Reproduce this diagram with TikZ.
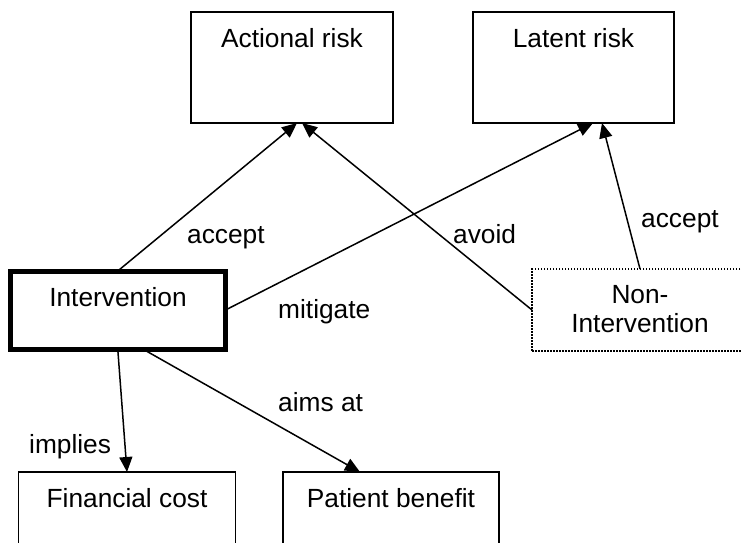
\documentclass[tikz,border=0pt]{standalone}
\usepackage{fontspec}
\setmainfont{Liberation Sans}
\usetikzlibrary{arrows.meta,calc}
\begin{document}
\begin{tikzpicture}[x=1pt,y=-1pt,
  box/.style={draw,line width=1.5pt,anchor=north west,inner sep=0pt,outer sep=0pt},
  txt/.style={font=\fontsize{26.3}{29}\selectfont,inner sep=0pt,anchor=base},
  lbl/.style={font=\fontsize{26.3}{29}\selectfont,inner sep=0pt,anchor=base west},
  conn/.style={line width=1.5pt,-{Triangle[length=15pt,width=13pt]}}]
\clip (0,0) rectangle (742,543);
% boxes
\node[box,minimum width=202pt,minimum height=111pt] (act) at (191,12) {};
\node[box,minimum width=201pt,minimum height=111pt] (lat) at (473,12) {};
\node[box,line width=5pt,minimum width=215.5pt,minimum height=78pt] (int) at (10,271) {};
\node[box,dash pattern=on 1.5pt off 1.5pt,minimum width=300pt,minimum height=82pt] (nonint) at (532,269) {};
\node[box,minimum width=217pt,minimum height=150pt] (fin) at (18.5,472) {};
\node[box,minimum width=216pt,minimum height=150pt] (pat) at (283,472) {};
% box texts
\node[txt] (actT) at (292,48) {Actional risk};
\node[txt] (latT) at (573.5,48) {Latent risk};
\node[txt] (intT) at (118,306) {Intervention};
\node[txt,anchor=center,align=center] (nonT) at (640,309.5) {Non-\\Intervention};
\node[txt] (finT) at (127,507) {Financial cost};
\node[txt] (patT) at (391,507) {Patient benefit};
% connector labels
\node[lbl] (l1) at (187,243) {accept};
\node[lbl] (l2) at (278,318) {mitigate};
\node[lbl] (l3) at (453,243) {avoid};
\node[lbl] (l4) at (641,227) {accept};
\node[lbl] (l5) at (278,411) {aims at};
\node[lbl] (l6) at (29,453) {implies};
% connectors
\draw[conn] (int.north) -- ([xshift=5pt]act.south);
\draw[conn] (nonint.west) -- ([xshift=10pt]act.south);
\draw[conn] (int.east) -- ([xshift=19.5pt]lat.south);
\draw[conn] ([xshift=108pt]nonint.north west) -- ([xshift=28.5pt]lat.south);
\draw[conn] (int.south) -- (fin.north);
\draw[conn] ([xshift=25pt]int.south) -- ([xshift=-31pt]pat.north);
\end{tikzpicture}
\end{document}
